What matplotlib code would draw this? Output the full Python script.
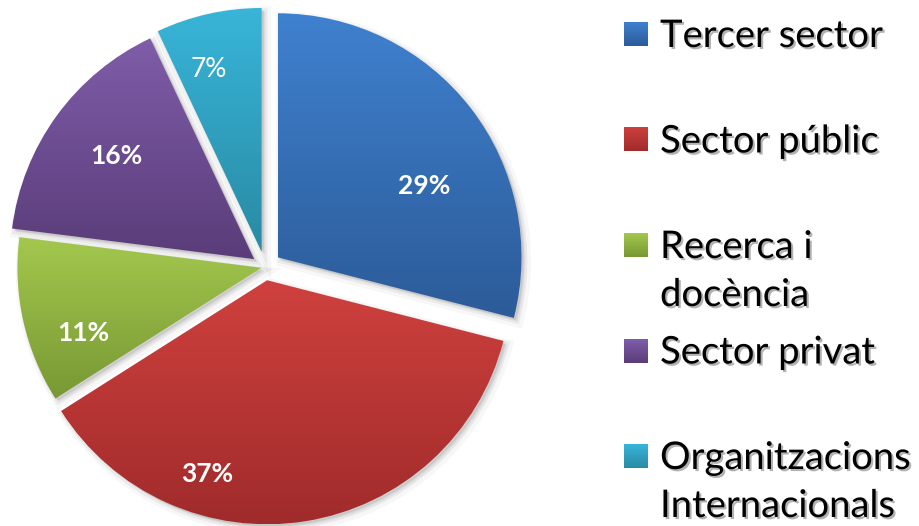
import numpy as np
import matplotlib
matplotlib.use('Agg')
import matplotlib.pyplot as plt
import matplotlib.patheffects as pe
from matplotlib.colors import LinearSegmentedColormap
from matplotlib.patches import PathPatch
from matplotlib.transforms import offset_copy

# data
categories = ['Tercer sector', 'Sector públic', 'Recerca i\ndocència',
              'Sector privat', 'Organitzacions\nInternacionals']
shares = [29, 37, 11, 16, 7]

# excel-like gradient, light at top, dark at bottom
top_colors = ['#3F81CF', '#CF413E', '#A3C84D', '#7F5DA9', '#38B5D9']
bottom_colors = ['#2C5B98', '#A02B2B', '#789834', '#5A3C79', '#298AA3']

# slice offsets and label placement tweaks (angle shift clockwise in deg, radial distance)
explode = [0.065, 0.055, 0.015, 0.055, 0.063]
label_shift = [10.8, 24.5, -7.3, 0.9, -3.4]
label_dist = [0.73, 0.88, 0.79, 0.76, 0.84]
label_weight = ['bold', 'bold', 'bold', 'bold', 'normal']

W, H = 920, 526
fig = plt.figure(figsize=(W / 100, H / 100), dpi=100)
fig.patch.set_facecolor('white')

PX = 244.0           # pixels per unit radius
cx, cy = 265, 267    # pie centre, pixels from top-left
ax = fig.add_axes([0, 0, 540 / W, 1])

wedges, texts, autotexts = ax.pie(
    shares, startangle=90, counterclock=False, explode=explode,
    autopct='%1.0f%%', textprops=dict(color='white', fontsize=19, family='Lato'))

grad = np.linspace(0, 1, 256).reshape(-1, 1)

for i, w in enumerate(wedges):
    w.set_facecolor('none')
    w.set_edgecolor('none')
    path = w.get_path()
    # soft shadow
    for off, lw, a in [(4, 8, 0.03), (3, 4, 0.05), (2, 0, 0.07)]:
        sh = PathPatch(path, transform=offset_copy(ax.transData, fig=fig, x=off, y=-off, units='dots'),
                       fc='black', ec='black', lw=lw, alpha=a, zorder=1)
        ax.add_patch(sh)
    bb = path.get_extents()
    cmap = LinearSegmentedColormap.from_list('g%d' % i, [top_colors[i], bottom_colors[i]])
    im = ax.imshow(grad, cmap=cmap, extent=(bb.x0, bb.x1, bb.y0, bb.y1),
                   aspect='auto', origin='upper', zorder=2)
    im.set_clip_path(w)

    mid = np.deg2rad((w.theta1 + w.theta2) / 2 - label_shift[i])
    t = autotexts[i]
    t.set_position((label_dist[i] * np.cos(mid), label_dist[i] * np.sin(mid)))
    t.set_fontweight(label_weight[i])
    t.set_zorder(5)

ax.set_aspect('auto')
ax.set_xlim(-cx / PX, (540 - cx) / PX)
ax.set_ylim(-(H - cy) / PX, cy / PX)
ax.axis('off')

# legend drawn by hand so the marker sits on the first line
shadow = [pe.withSimplePatchShadow(offset=(1.5, -1.5), shadow_rgbFace='black', alpha=0.3)]
for i, label in enumerate(categories):
    base = 47 + 105.5 * i
    for j, line in enumerate(label.split('\n')):
        fig.text(660 / W, 1 - (base + 48 * j) / H, line, fontsize=27.5, family='Lato',
                 ha='left', va='baseline', color='black', path_effects=shadow)
    sq = fig.add_axes([624 / W, 1 - (base - 1) / H, 24 / W, 24 / H])
    cmap = LinearSegmentedColormap.from_list('l%d' % i, [top_colors[i], bottom_colors[i]])
    sq.imshow(grad, cmap=cmap, aspect='auto')
    sq.axis('off')

fig.savefig('out.png', dpi=100)
